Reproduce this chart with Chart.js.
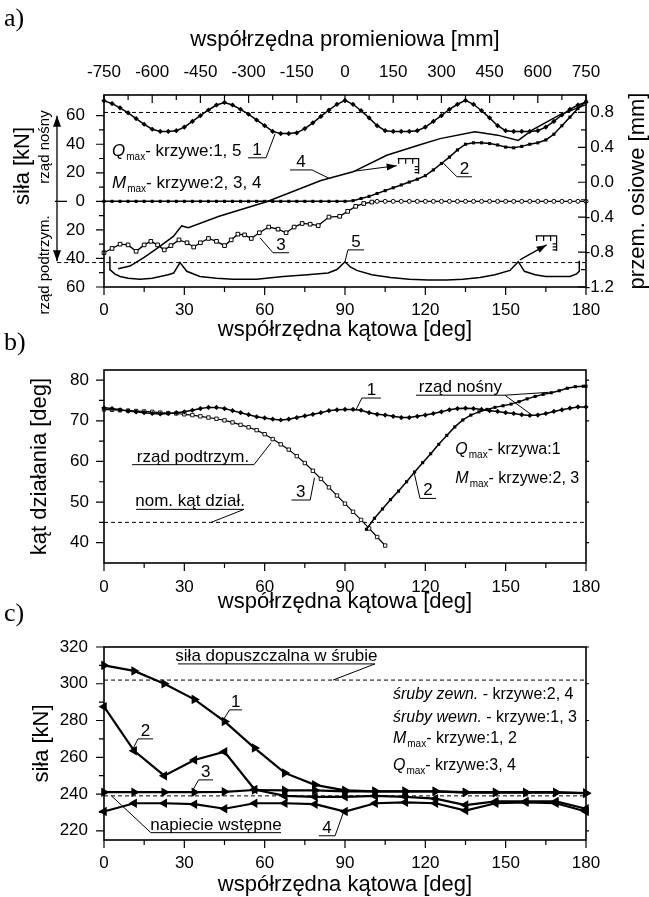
<!DOCTYPE html>
<html lang="pl">
<head>
<meta charset="utf-8">
<title>Wykresy a, b, c</title>
<script src="https://cdn.jsdelivr.net/npm/chart.js@4.4.1/dist/chart.umd.min.js"></script>
<style>
  html, body { margin: 0; padding: 0; background: #fff; }
  body { width: 649px; height: 897px; position: relative; overflow: hidden; }
  canvas { position: absolute; left: 0; }
  .lit { position: absolute; left: 4px; font: 26px "Liberation Serif", "Times New Roman", serif; color: #000; }
</style>
</head>
<body>
<canvas id="wykresA" width="649" height="345" style="top:0"></canvas>
<canvas id="wykresB" width="649" height="280" style="top:340px"></canvas>
<canvas id="wykresC" width="649" height="282" style="top:615px"></canvas>
<div class="lit" style="top:3px">a)</div>
<div class="lit" style="top:327px">b)</div>
<div class="lit" style="top:598px">c)</div>
<script>
// --- dane: wspolne ---
const katCo3 = [0,3,6,9,12,15,18,21,24,27,30,33,36,39,42,45,48,51,54,57,60,63,66,69,72,75,78,81,84,87,90,93,96,99,102,105,108,111,114,117,120,123,126,129,132,135,138,141,144,147,150,153,156,159,162,165,168,171,174,177,180];
const zakresKat = [0, 180];
const tickKat = [0, 30, 60, 90, 120, 150, 180];

// --- a) sily i przemieszczenia ---
const tickProm = [-750, -600, -450, -300, -150, 0, 150, 300, 450, 600, 750];
const tickSilaA = [-60, -40, -20, 0, 20, 40, 60];
const tickPrzem = [-1.2, -0.8, -0.4, 0, 0.4, 0.8];
const sila1A = [70.5,68.5,65.5,62,58,54,50.5,49,49,49.5,52,56,60,64,67.5,69.3,67.5,64.5,61,57,53,49,47.5,47.5,48,51,55,59.5,64,68,70.7,68,63.5,58.5,53,49.5,49,49,49,49.5,52,56,60,64.5,68,70.7,68,63.5,58.5,53,49.5,49,49,49,49.5,52,56,60.5,64.5,67.5,69.5];
const sila2A = [0,0,0,0,0,0,0,0,0,0,0,0,0,0,0,0,0,0,0,0,0,0,0,0,0,0,0,0,0,0,0,0.5,2,3.5,5.5,7.5,9.5,11.5,13.5,15.5,18,22,26.5,31,36,40,41,41,40.5,39.5,38,37.5,38.5,40,41,43,47,53,59,65,70];
const kat3A = [0,3,6,9,12,15,17.5,20,22.5,25,28,31,33.5,36,39,42,45,47.5,50,52.5,55,58,61.5,65,68,71,74,77,80,84,88,91,94,97,100,102,105,108,111,114,117,120,123,126,129,132,135,138,141,144,147,150,153,156,159,162,165,168,171,174,177,180];
const sila3A = [-36,-33,-30,-30.5,-35,-30.5,-28,-30.5,-34,-31,-27,-29,-32,-29,-26,-28,-31,-27,-23,-23.5,-26,-22,-18,-19.5,-22,-18,-15.5,-16,-17,-11,-10.5,-7,-3.5,-1.5,-0.5,0,0,0,0,0,0,0,0,0,0,0,0,0,0,0,0,0,0,0,0,0,0,0,0,0,0,0];
const kat4A = [5.3,9.7,15,19.7,25.9,29,31.5,43,61,81,93,105.6,118,125.5,138.5,147,154.7,160,170,180];
const przem4A = [-0.99,-0.96,-0.86,-0.76,-0.62,-0.5,-0.52,-0.39,-0.22,0.02,0.12,0.31,0.43,0.5,0.58,0.54,0.48,0.6,0.77,0.89];
const kat5A = [2.2,2.2,4,6,9,13.5,18,21,24,26,28.4,30.9,35.8,42,48,57,67,76,83.7,87,90,92,94.4,100,107,114,121,128,134,140.4,146,151.6,154.7,157,161,165,170,174,176.5,177.5,177.5];
const przem5A = [-0.85,-1.0,-1.05,-1.08,-1.1,-1.11,-1.1,-1.08,-1.06,-1.04,-0.92,-1.02,-1.08,-1.1,-1.11,-1.11,-1.08,-1.06,-1.04,-1.0,-0.91,-0.97,-1.01,-1.06,-1.09,-1.11,-1.12,-1.12,-1.11,-1.09,-1.06,-1.01,-0.91,-1.02,-1.06,-1.08,-1.08,-1.08,-1.05,-1.02,-0.9];
const przerywanaGoraA = [0.8, 0.8];
const katDolnaA = [-17.5, 180];
const przerywanaDolA = [-0.92, -0.92];

// --- b) kat dzialania ---
const tickKatDz = [40, 50, 60, 70, 80];
const katDz1B = [73.2,73.0,72.7,72.4,72.2,72.0,71.8,71.7,71.8,72.0,72.2,72.6,73.0,73.3,73.3,73.0,72.5,72.0,71.5,71.0,70.7,70.4,70.2,70.4,70.8,71.2,71.6,72.0,72.5,72.7,72.8,72.8,72.6,72.0,71.6,71.4,71.1,70.8,70.8,71.1,71.4,71.8,72.2,72.7,73.0,73.1,73.0,72.8,72.5,72.3,72.0,71.8,71.5,71.3,71.4,71.8,72.3,72.7,73.1,73.4,73.4];
const kat2B = [98,101,104,107,110,113,116,119,122,125,128,131,134,137,140,143,146,149,152,155,158,161,164,167,170,173,176,179,180];
const katDz2B = [43.3,46.0,48.3,50.6,52.7,55.0,57.4,59.7,61.9,64.2,66.4,68.5,70.2,71.4,72.2,72.8,73.3,73.7,74.1,74.7,75.4,76.0,76.5,76.9,77.4,78.0,78.4,78.5,78.5];
const katDz3B = [72.8,72.7,72.6,72.5,72.4,72.3,72.2,72.0,71.9,71.8,71.6,71.4,71.1,70.8,70.5,70.1,69.6,69.0,68.4,67.7,66.7,65.5,64.2,62.9,61.3,59.6,57.7,55.7,53.6,51.6,49.6,47.6,45.6,43.5,41.4,39.3];
const nominalnyB = [45, 45];

// --- c) sily w srubach ---
const tickSilaC = [220, 240, 260, 280, 300, 320];
const katC = [0,11.25,22.5,33.75,45,56.25,67.5,78.75,90,101.25,112.5,123.75,135,146.25,157.5,168.75,180];
const sila1C = [310,307,300,291.5,279.5,265,251.5,245,242,241.5,241.5,241.5,241,241,241,241,240.5];
const sila2C = [287.5,263.5,250,258.5,263,242.5,239,238.5,238.5,239,238.5,237.5,234,236,236,236,232];
const sila3C = [241,241,241,241,241.2,242.2,242,242,241.5,241.5,241.5,241.5,240.8,240.7,240.7,240.7,240.5];
const sila4C = [230.5,235,235,234.5,232,235,235,234.5,230.5,235,235.5,235,231,235,235.5,235,230.5];
const dopuszczalnaC = [302, 302];
const wstepneC = [239, 239];

// opisy z odnosnikami (wspolrzedne w jednostkach osi)
const opisyA = [
  { t: '1', u: [53.8, 60.5, 30.5], l: [[60.5, 30.5, 63.9, 47.4]] },
  { t: '4', u: [69.5, 77.7, 22], l: [[77.7, 22, 84.4, 15.8]] },
  { t: '2', u: [131.8, 137.4, 17.2], l: [[131.8, 17.2, 126.6, 27]] },
  { t: '3', u: [63.1, 69.1, -36], l: [[63.1, -36, 58.3, -25.6]] },
  { t: '5', u: [91.1, 97.1, -34], l: [[91.1, -34, 90, -42.2]] }
];
const opisyB = [
  { t: '1', u: [96.3, 103.4, 75.6], l: [[96.3, 75.6, 94.1, 72.7]] },
  { t: 'rząd nośny', u: [116.5, 149.7, 76.3], l: [[149.7, 76.3, 166, 77], [149.7, 76.3, 160, 71.3]] },
  { t: 'rząd podtrzym.', u: [10.5, 56, 59.2], l: [[56, 59.2, 62.4, 64.6]] },
  { t: '3', u: [70, 77, 50.5], l: [[77, 50.5, 78.6, 56]] },
  { t: '2', u: [118, 124, 50.9], l: [[118, 50.9, 115.8, 57.3]] },
  { t: 'nom. kąt dział.', u: [12, 52.3, 48.2], l: [[52.3, 48.2, 40, 45]] }
];
const opisyC = [
  { t: 'siła dopuszczalna w śrubie', u: [27.6, 101.2, 310.8], l: [[101.2, 310.8, 85.5, 302]] },
  { t: '1', u: [46.9, 51.5, 285.8], l: [[46.9, 285.8, 44.4, 280]] },
  { t: '2', u: [12.7, 18.3, 270], l: [[12.7, 270, 10.5, 263.6]] },
  { t: '3', u: [35.3, 40.7, 247.7], l: [[35.3, 247.7, 32.9, 241.4]] },
  { t: 'napiecie wstępne', u: [17.5, 66.1, 219], l: [[17.5, 219, 2.8, 239]] },
  { t: '4', u: [80.2, 86.3, 217.3], l: [[86.3, 217.3, 89.4, 230]] }
];

const F = '"Liberation Sans", Arial, Helvetica, sans-serif';
const czarny = '#000';

function pkt(xs, ys) { return xs.map((x, i) => ({ x: x, y: ys[i] })); }
function srodki(t) { return t.slice(1).map((v, i) => (v + t[i]) / 2); }

function seria(xs, ys, os, styl) {
  return Object.assign({
    data: pkt(xs, ys), yAxisID: os, borderColor: czarny, borderWidth: 1.5,
    pointRadius: 0, pointBackgroundColor: czarny, pointBorderColor: czarny, pointBorderWidth: 1,
    tension: 0, fill: false, clip: false
  }, styl || {});
}

function os(pozycja, min, max, ticks, rozmiar, odstep, etykieta, pokaz) {
  const pionowa = pozycja === 'left' || pozycja === 'right';
  return {
    type: 'linear', position: pozycja, min: min, max: max,
    afterFit: s => { if (pionowa) s.width = rozmiar; else s.height = rozmiar; },
    afterBuildTicks: s => { s.ticks = ticks.map(v => ({ value: v })); },
    grid: { display: false, drawTicks: false },
    border: { display: false },
    ticks: {
      display: pokaz !== false, color: czarny, font: { family: F, size: 17 }, padding: odstep,
      maxRotation: 0, autoSkip: false, callback: etykieta || (v => v)
    }
  };
}

function kreski(ch, id, strona, wartosci, dl) {
  const a = ch.chartArea, s = ch.scales[id], c = ch.ctx;
  c.beginPath();
  wartosci.forEach(v => {
    const p = s.getPixelForValue(v);
    if (strona === 'b') { c.moveTo(p, a.bottom); c.lineTo(p, a.bottom + dl); }
    else if (strona === 't') { c.moveTo(p, a.top); c.lineTo(p, a.top - dl); }
    else if (strona === 'l') { c.moveTo(a.left, p); c.lineTo(a.left - dl, p); }
    else { c.moveTo(a.right, p); c.lineTo(a.right + dl, p); }
  });
  c.stroke();
}

function ramka(ch) {
  const a = ch.chartArea, c = ch.ctx;
  c.lineWidth = 1.6;
  c.strokeRect(a.left, a.top, a.right - a.left, a.bottom - a.top);
  c.lineWidth = 1.2;
}

function tekst(c, t, x, y, r, wyr) {
  c.font = `${r}px ${F}`; c.textAlign = wyr || 'center'; c.textBaseline = 'middle';
  c.fillText(t, x, y);
}

function pionowy(c, t, x, y, r) {
  c.save(); c.translate(x, y); c.rotate(-Math.PI / 2);
  tekst(c, t, 0, 0, r); c.restore();
}

function napisMax(c, litera, reszta, x, y, r) {
  c.textAlign = 'left'; c.textBaseline = 'alphabetic';
  c.font = `italic ${r}px ${F}`; c.fillText(litera, x, y);
  let w = c.measureText(litera).width + 1;
  c.font = `${Math.round(r * 0.6)}px ${F}`; c.fillText('max', x + w, y + 4);
  w += c.measureText('max').width;
  c.font = `${r}px ${F}`; c.fillText(reszta, x + w, y);
}

function napisKursywa(c, kursywa, reszta, x, y, r) {
  c.textAlign = 'left'; c.textBaseline = 'alphabetic';
  c.font = `italic ${r}px ${F}`; c.fillText(kursywa, x, y);
  const w = c.measureText(kursywa).width;
  c.font = `${r}px ${F}`; c.fillText(reszta, x + w, y);
}

function odnosniki(ch, lista, osY) {
  const c = ch.ctx, sx = ch.scales.x, sy = ch.scales[osY];
  const X = v => sx.getPixelForValue(v), Y = v => sy.getPixelForValue(v);
  lista.forEach(o => {
    c.lineWidth = 1;
    c.beginPath();
    c.moveTo(X(o.u[0]), Y(o.u[2])); c.lineTo(X(o.u[1]), Y(o.u[2]));
    o.l.forEach(s => { c.moveTo(X(s[0]), Y(s[1])); c.lineTo(X(s[2]), Y(s[3])); });
    c.stroke();
    c.font = `17px ${F}`; c.textAlign = 'center'; c.textBaseline = 'alphabetic';
    c.fillText(o.t, (X(o.u[0]) + X(o.u[1])) / 2, Y(o.u[2]) - 3);
  });
}

function strzalka(c, x0, y0, x1, y1, d, w) {
  c.beginPath(); c.moveTo(x0, y0); c.lineTo(x1, y1); c.stroke();
  const k = Math.atan2(y1 - y0, x1 - x0);
  c.beginPath(); c.moveTo(x1, y1);
  c.lineTo(x1 - d * Math.cos(k) + w * Math.sin(k), y1 - d * Math.sin(k) - w * Math.cos(k));
  c.lineTo(x1 - d * Math.cos(k) - w * Math.sin(k), y1 - d * Math.sin(k) + w * Math.cos(k));
  c.closePath(); c.fill();
}

// znaczek "czujnika" przy koncu strzalki
function linijka(c, x, y) {
  c.lineWidth = 1.2;
  c.beginPath();
  c.moveTo(x, y); c.lineTo(x + 21, y); c.lineTo(x + 21, y + 15);
  [1, 8, 15].forEach(d => { c.moveTo(x + d, y); c.lineTo(x + d, y + 5); });
  [8, 11, 14].forEach(d => { c.moveTo(x + 21, y + d); c.lineTo(x + 17, y + d); });
  c.stroke();
}

const wspolne = {
  responsive: false, animation: false, events: [], devicePixelRatio: 1,
  plugins: { legend: { display: false }, tooltip: { enabled: false } }
};

// ---------- a) ----------
const wtyczkaA = {
  id: 'opisyA',
  afterDatasetsDraw(ch) {
    const c = ch.ctx, a = ch.chartArea, sx = ch.scales.x, sy = ch.scales.y;
    c.save();
    c.strokeStyle = czarny; c.fillStyle = czarny;
    ramka(ch);
    kreski(ch, 'x', 'b', tickKat, 8); kreski(ch, 'x', 'b', srodki(tickKat), 5);
    kreski(ch, 'xTop', 't', tickProm, -8); kreski(ch, 'xTop', 't', srodki(tickProm), -5);
    kreski(ch, 'y', 'l', tickSilaA, 8); kreski(ch, 'y', 'l', srodki(tickSilaA), 5);
    kreski(ch, 'yR', 'r', tickPrzem, -8); kreski(ch, 'yR', 'r', srodki(tickPrzem), -5);
    c.font = `17px ${F}`; c.textAlign = 'right'; c.textBaseline = 'middle';
    tickPrzem.forEach(v => c.fillText(v.toFixed(1), 614, ch.scales.yR.getPixelForValue(v)));

    tekst(c, 'współrzędna promieniowa [mm]', (a.left + a.right) / 2, 40, 22);
    tekst(c, 'współrzędna kątowa [deg]', (a.left + a.right) / 2, 330, 22);
    pionowy(c, 'przem. osiowe [mm]', 638, (a.top + a.bottom) / 2, 22);
    pionowy(c, 'siła [kN]', 23, 166, 22);
    pionowy(c, 'rząd nośny', 45, 147, 15);
    pionowy(c, 'rząd podtrzym.', 45, 265, 15);

    const y0 = sy.getPixelForValue(0);
    c.lineWidth = 1.3;
    strzalka(c, 57, y0, 57, sy.getPixelForValue(60), 11, 4);
    strzalka(c, 57, y0, 57, sy.getPixelForValue(-42), 11, 4);
    c.beginPath(); c.moveTo(55, y0); c.lineTo(67, y0); c.stroke();

    napisMax(c, 'Q', '- krzywe:1, 5', sx.getPixelForValue(3), sy.getPixelForValue(32), 17);
    napisMax(c, 'M', '- krzywe:2, 3, 4', sx.getPixelForValue(3), sy.getPixelForValue(9.5), 17);
    odnosniki(ch, opisyA, 'y');

    c.lineWidth = 1;
    const s1 = [sx.getPixelForValue(93), sy.getPixelForValue(21)];
    const k1 = [sx.getPixelForValue(109.3), sy.getPixelForValue(25)];
    strzalka(c, s1[0], s1[1], k1[0], k1[1], 10, 3.5);
    linijka(c, k1[0] + 1, k1[1] - 7);
    const s2 = [sx.getPixelForValue(155.3), sy.getPixelForValue(-41)];
    const k2 = [sx.getPixelForValue(165.3), sy.getPixelForValue(-30.5)];
    strzalka(c, s2[0], s2[1], k2[0], k2[1], 10, 3.5);
    linijka(c, k2[0] - 11, k2[1] - 9);
    c.restore();
  }
};

new Chart(document.getElementById('wykresA'), {
  type: 'line',
  data: {
    datasets: [
      seria(katCo3, sila1A, 'y', { pointStyle: 'rectRot', pointRadius: 2.6, pointBorderWidth: 0 }),
      seria(katCo3, sila2A, 'y', { pointStyle: 'rect', pointRadius: 2.2, pointBorderWidth: 0 }),
      seria(kat3A, sila3A, 'y', {
        pointStyle: ctx => (ctx.raw && ctx.raw.y === 0 ? 'circle' : 'rect'),
        pointRadius: ctx => (ctx.raw && ctx.raw.y === 0 ? 2 : 2.6),
        pointBackgroundColor: '#fff', pointBorderWidth: 1, borderWidth: 1.3
      }),
      seria(kat4A, przem4A, 'yR'),
      seria(kat5A, przem5A, 'yR'),
      seria(zakresKat, przerywanaGoraA, 'yR', { borderDash: [4, 3], borderWidth: 1 }),
      seria(katDolnaA, przerywanaDolA, 'yR', { borderDash: [4, 3], borderWidth: 1 })
    ]
  },
  options: Object.assign({}, wspolne, {
    layout: { padding: 0 },
    scales: {
      x: os('bottom', 0, 180, tickKat, 58, 13),
      xTop: os('top', -750, 750, tickProm, 95, 12),
      y: os('left', -60, 74.5, tickSilaA, 104, 19, v => Math.abs(v)),
      yR: os('right', -1.2, 1.0, tickPrzem, 63, 2, null, false)
    }
  }),
  plugins: [wtyczkaA]
});

// ---------- b) ----------
const wtyczkaB = {
  id: 'opisyB',
  afterDatasetsDraw(ch) {
    const c = ch.ctx, a = ch.chartArea, sx = ch.scales.x, sy = ch.scales.y;
    c.save();
    c.strokeStyle = czarny; c.fillStyle = czarny;
    ramka(ch);
    kreski(ch, 'x', 'b', tickKat, 8); kreski(ch, 'x', 'b', srodki(tickKat), 5);
    kreski(ch, 'y', 'l', tickKatDz, 8); kreski(ch, 'y', 'l', srodki(tickKatDz), 5);
    kreski(ch, 'y', 'r', tickKatDz, 3);
    tekst(c, 'współrzędna kątowa [deg]', (a.left + a.right) / 2, 262, 22);
    pionowy(c, 'kąt działania [deg]', 40, (a.top + a.bottom) / 2, 22);
    odnosniki(ch, opisyB, 'y');
    napisMax(c, 'Q', '- krzywa:1', sx.getPixelForValue(131.2), sy.getPixelForValue(61.9), 16);
    napisMax(c, 'M', '- krzywe:2, 3', sx.getPixelForValue(131.2), sy.getPixelForValue(54.6), 16);
    c.restore();
  }
};

new Chart(document.getElementById('wykresB'), {
  type: 'line',
  data: {
    datasets: [
      seria(katCo3, katDz1B, 'y', { pointStyle: 'rectRot', pointRadius: 2.6, pointBorderWidth: 0 }),
      seria(kat2B, katDz2B, 'y', { pointStyle: 'rect', pointRadius: 2.2, pointBorderWidth: 0 }),
      seria(katCo3.slice(0, katDz3B.length), katDz3B, 'y', {
        pointStyle: 'rect', pointRadius: 2.4, pointBackgroundColor: '#fff', pointBorderWidth: 0.9, borderWidth: 1.2
      }),
      seria(zakresKat, nominalnyB, 'y', { borderDash: [4, 3], borderWidth: 1 })
    ]
  },
  options: Object.assign({}, wspolne, {
    layout: { padding: { top: 30, right: 63 } },
    scales: {
      x: os('bottom', 0, 180, tickKat, 57, 14),
      y: os('left', 35, 82.5, tickKatDz, 104, 15)
    }
  }),
  plugins: [wtyczkaB]
});

// ---------- c) ----------
const wtyczkaC = {
  id: 'opisyC',
  afterDatasetsDraw(ch) {
    const c = ch.ctx, a = ch.chartArea, sx = ch.scales.x, sy = ch.scales.y;
    c.save();
    c.strokeStyle = czarny; c.fillStyle = czarny;
    ramka(ch);
    kreski(ch, 'x', 'b', tickKat, 8); kreski(ch, 'x', 'b', srodki(tickKat), 5);
    kreski(ch, 'y', 'l', tickSilaC, 8); kreski(ch, 'y', 'l', srodki(tickSilaC), 5);
    kreski(ch, 'y', 'r', tickSilaC, 3);
    tekst(c, 'współrzędna kątowa [deg]', (a.left + a.right) / 2, 270, 22);
    pionowy(c, 'siła [kN]', 42, (a.top + a.bottom) / 2, 22);
    odnosniki(ch, opisyC, 'y');
    const x0 = sx.getPixelForValue(107.9);
    napisKursywa(c, 'śruby zewn.', ' - krzywe:2, 4', x0, sy.getPixelForValue(291.7), 16);
    napisKursywa(c, 'śruby wewn.', ' - krzywe:1, 3', x0, sy.getPixelForValue(279.4), 16);
    napisMax(c, 'M', '- krzywe:1, 2', x0, sy.getPixelForValue(268), 16);
    napisMax(c, 'Q', '- krzywe:3, 4', x0, sy.getPixelForValue(253.2), 16);
    c.restore();
  }
};

const trojkat = (obrot) => ({ pointStyle: 'triangle', pointRotation: obrot, pointRadius: 5.5, pointBorderWidth: 0, borderWidth: 2.2 });

new Chart(document.getElementById('wykresC'), {
  type: 'line',
  data: {
    datasets: [
      seria(katC, sila1C, 'y', trojkat(90)),
      seria(katC, sila2C, 'y', trojkat(-90)),
      seria(katC, sila3C, 'y', trojkat(90)),
      seria(katC, sila4C, 'y', trojkat(-90)),
      seria(zakresKat, dopuszczalnaC, 'y', { borderDash: [4, 3], borderWidth: 1 }),
      seria(zakresKat, wstepneC, 'y', { borderDash: [4, 3], borderWidth: 1 })
    ]
  },
  options: Object.assign({}, wspolne, {
    layout: { padding: { top: 32, right: 63 } },
    scales: {
      x: os('bottom', 0, 180, tickKat, 57, 13),
      y: os('left', 215, 320, tickSilaC, 104, 16)
    }
  }),
  plugins: [wtyczkaC]
});
</script>
</body>
</html>
